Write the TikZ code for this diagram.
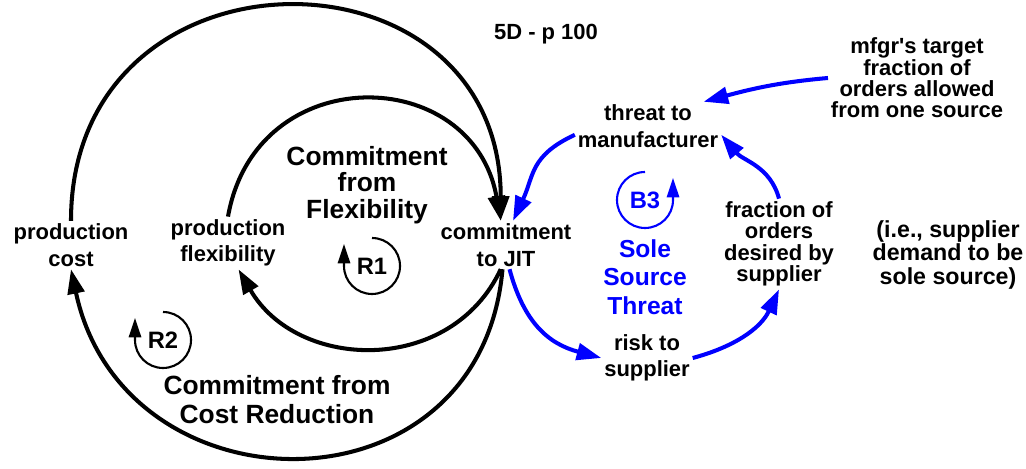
\documentclass[tikz,border=0pt]{standalone}
\usepackage{fontspec}
\setmainfont{Liberation Sans}[Ligatures=TeXOff]
\usetikzlibrary{arrows.meta}

\begin{document}
\begin{tikzpicture}[x=0.02cm, y=0.02cm,
        every node/.style={align=center, inner sep=1.5pt, font=\bfseries\fontsize{12.5}{15}\selectfont},
        tight/.style={font=\bfseries\fontsize{12.5}{12.2}\selectfont},
        loopname/.style={font=\bfseries\fontsize{15}{15}\selectfont},
        loopmark/.style={font=\bfseries\fontsize{13.5}{14}\selectfont},
        link/.style={line width=2.3pt, -{Triangle[length=14pt,width=9.5pt]}},
        bluelink/.style={link, blue},
        loopline/.style={line width=1.2pt, -{Triangle[length=11pt,width=7pt]}}
    ]
        \useasboundingbox (0,0) rectangle (1026,469);

        % Variablen
        \node (title) at (546,435) {5D - p 100};
        \node (pc) at (71,224) {production\\cost};
        \node (pf) at (228,226) {production\\flexibility};
        \node (jit) at (506,224) {commitment\\to JIT};
        \node (tm) at (648,343) {threat to\\manufacturer};
        \node[tight] (mt) at (917,391) {mfgr's target\\fraction of\\orders allowed\\from one source};
        \node[tight] (fo) at (779,225) {fraction of\\orders\\desired by\\supplier};
        \node[font=\bfseries\fontsize{13.2}{13.2}\selectfont] (ie) at (948,214) {(i.e., supplier\\demand to be\\sole source)};
        \node (rs) at (647,111) {risk to\\supplier};

        % Schleifen
        \node[loopname] (cf) at (367,284) {Commitment\\from\\Flexibility};
        \node[loopname, font=\bfseries\fontsize{15}{16.5}\selectfont] (ccr) at (277,69) {Commitment from\\Cost Reduction};
        \node[loopname, blue, font=\bfseries\fontsize{14}{16.3}\selectfont] (sst) at (645,192) {Sole\\Source\\Threat};
        \node[loopmark] (R1) at (372,203) {R1};
        \node[loopmark] (R2) at (163,129) {R2};
        \node[loopmark, blue] (B3) at (645,269) {B3};
        \draw[loopline] ([shift={(90:28)}]R1.center) arc[start angle=90, end angle=-180, radius=28] -- ++(0,22);
        \draw[loopline] ([shift={(90:28)}]R2.center) arc[start angle=90, end angle=-180, radius=28] -- ++(0,22);
        \draw[loopline, blue] ([shift={(90:28)}]B3.center) arc[start angle=90, end angle=360, radius=28] -- ++(0,22);

        % Verbindungen
        \draw[link] (pc.north) to[out=90, in=90, looseness=1.7] ([xshift=-3pt]jit.north);
        \draw[link] (pf.north) to[out=80, in=100, looseness=1.5] ([xshift=-3pt]jit.north);
        \draw[link] ([xshift=-3pt]jit.south) to[out=-115, in=-60, looseness=1.15] ([xshift=6pt]pf.south);
        \draw[link] ([xshift=-2pt]jit.south) to[out=-95, in=-78, looseness=1.5] (pc.south);
        \draw[bluelink] ([yshift=-5pt]tm.west) to[out=205, in=65, looseness=1.2] ([xshift=4pt]jit.north);
        \draw[bluelink] ([xshift=2pt]jit.south) to[out=-75, in=165, looseness=1.1] (rs.west);
        \draw[bluelink] (rs.east) to[out=15, in=-115] (fo.south);
        \draw[bluelink] (fo.north) to[out=105, in=-50] ([yshift=-5pt]tm.east);
        \draw[bluelink] (mt.west) to[out=185, in=15] ([xshift=-10pt]tm.north east);
    \end{tikzpicture}
\end{document}
